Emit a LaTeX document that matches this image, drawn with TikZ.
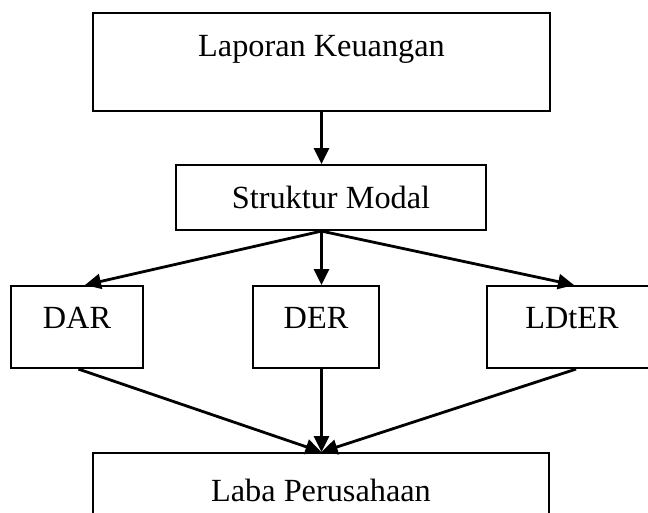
\documentclass[tikz,border=0pt]{standalone}
\usepackage{fontspec}
\setmainfont{Liberation Serif}
\usetikzlibrary{arrows.meta}
\begin{document}
\begin{tikzpicture}[x=1pt,y=-1pt,
  box/.style={draw,line width=2.1pt,inner sep=0pt,font=\fontsize{32.3}{36}\selectfont},
  conn/.style={line width=2.8pt,-{Triangle[length=16pt,width=15pt]}}]
\useasboundingbox (0,0) rectangle (648,512);
\clip (0,0) rectangle (648,512);
\node[box,anchor=north,minimum width=457pt,text height=43pt,text depth=55pt] (b1) at (321.5,12) {Laporan Keuangan};
\node[box,anchor=north,minimum width=310pt,text height=43pt,text depth=22pt] (b2) at (331,164) {Struktur Modal};
\node[box,anchor=north,minimum width=132pt,text height=42pt,text depth=40pt] (dar) at (77,285) {DAR};
\node[box,anchor=north,minimum width=126pt,text height=42pt,text depth=40pt] (der) at (316,285) {DER};
\node[box,anchor=north,minimum width=170pt,text height=42pt,text depth=40pt] (ldter) at (572,285) {LDtER};
\node[box,anchor=north,minimum width=456pt,text height=48pt,text depth=40pt] (laba) at (321,452) {Laba Perusahaan};
\coordinate (hub) at (b2.south -| b1.south);
\draw[conn] (b1.south) -- (b2.north -| b1.south);
\draw[conn] (hub) -- ([xshift=8pt]dar.north);
\draw[conn] (hub) -- (der.north -| hub);
\draw[conn] (hub) -- ([xshift=2pt]ldter.north);
\draw[conn] ([xshift=1.5pt]dar.south) -- (laba.north -| hub);
\draw[conn] (der.south -| hub) -- (laba.north -| hub);
\draw[conn] ([xshift=4pt]ldter.south) -- (laba.north -| hub);
\end{tikzpicture}
\end{document}
